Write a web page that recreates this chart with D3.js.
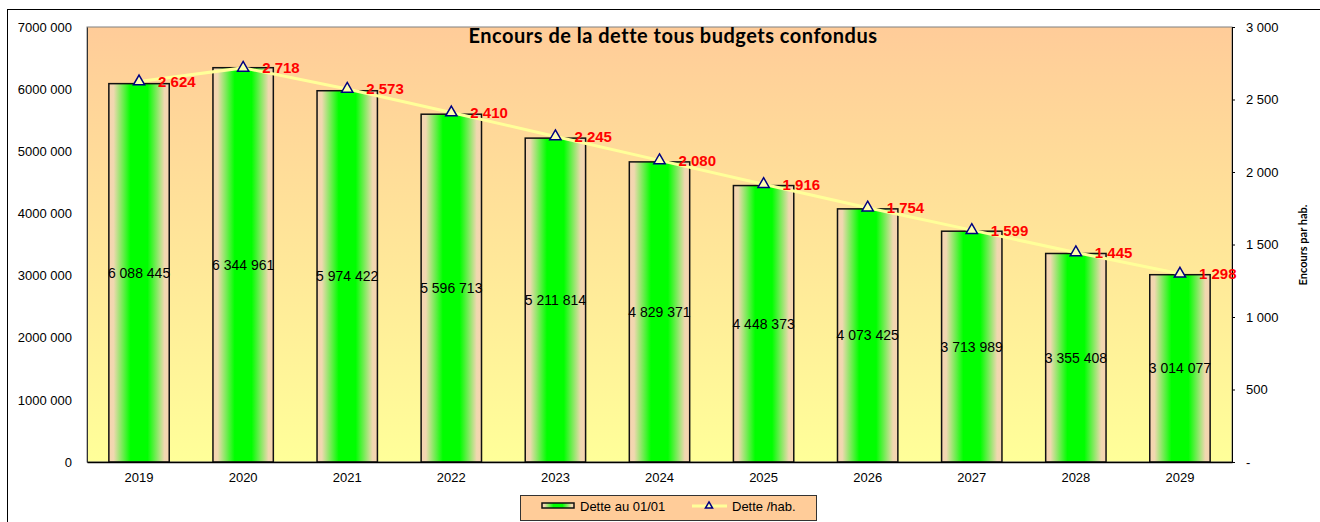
<!DOCTYPE html>
<html><head><meta charset="utf-8">
<script src="https://cdn.jsdelivr.net/npm/d3@7"></script>
<style>body{margin:0;background:#fff}svg{display:block}</style>
</head><body>
<svg id="c" width="1320" height="522"></svg>
<script>
const years = ["2019","2020","2021","2022","2023","2024","2025","2026","2027","2028","2029"];
const detteValues = [6088445, 6344961, 5974422, 5596713, 5211814, 4829371, 4448373, 4073425, 3713989, 3355408, 3014077];
const parHabValues = [2624, 2718, 2573, 2410, 2245, 2080, 1916, 1754, 1599, 1445, 1298];
const leftTickValues = [0, 1000000, 2000000, 3000000, 4000000, 5000000, 6000000, 7000000];
const leftTickLabels = ["0","1000 000","2000 000","3000 000","4000 000","5000 000","6000 000","7000 000"];
const rightTickValues = [0, 500, 1000, 1500, 2000, 2500, 3000];
const rightTickLabels = ["-","500","1 000","1 500","2 000","2 500","3 000"];
const title = "Encours de la dette tous budgets confondus";
const rightTitle = "Encours par hab.";
const legendLabels = ["Dette au 01/01", "Dette /hab."];

const svg = d3.select("#c");
const L = 87, R = 1232, T = 27, B = 462;
const sans = "'Liberation Sans', Arial, sans-serif";
const spaceFmt = v => d3.format(",")(v).replace(/,/g, " ");

const defs = svg.append("defs");
const bg = defs.append("linearGradient").attr("id","bg").attr("x1",0).attr("y1",0).attr("x2",0).attr("y2",1);
bg.append("stop").attr("offset","0%").attr("stop-color","#FFCC99");
bg.append("stop").attr("offset","100%").attr("stop-color","#FFFF99");
const bar = defs.append("linearGradient").attr("id","bar").attr("x1",0).attr("y1",0).attr("x2",1).attr("y2",0);
[[0,"#F8D4B0"],[0.08,"#F0D8B0"],[0.36,"#00FF00"],[0.64,"#00FF00"],[0.92,"#F0D8B0"],[1,"#F8D4B0"]].forEach(([o,c]) =>
  bar.append("stop").attr("offset", o*100+"%").attr("stop-color", c));

// outer frame
svg.append("rect").attr("x",7.5).attr("y",9.5).attr("width",1330).attr("height",530)
  .attr("fill","#fff").attr("stroke","#000").attr("stroke-width",1);

const x = d3.scaleBand().domain(years).range([L, R]).paddingInner(0.42).paddingOuter(0.21);
const yL = d3.scaleLinear().domain([0, 7000000]).range([B, T]);
const yR = d3.scaleLinear().domain([0, 3000]).range([B, T]);

// plot background
svg.append("rect").attr("x",L).attr("y",T).attr("width",R-L).attr("height",B-T)
  .attr("fill","url(#bg)").attr("stroke","#808080").attr("stroke-width",1);

// title
svg.append("text").attr("x",673).attr("y",43).attr("text-anchor","middle")
  .attr("font-family","Lato, 'Open Sans', sans-serif").attr("font-weight","bold").attr("font-size",20)
  .attr("letter-spacing",0.5).attr("fill","#000").text(title);

// bars
svg.append("g").selectAll("rect").data(detteValues).join("rect")
  .attr("x",(d,i)=>x(years[i])).attr("width",x.bandwidth())
  .attr("y",d=>yL(d)).attr("height",d=>B-yL(d))
  .attr("fill","url(#bar)").attr("stroke","#111").attr("stroke-width",1.5);

// bar labels
svg.append("g").selectAll("text").data(detteValues).join("text")
  .attr("x",(d,i)=>x(years[i])+x.bandwidth()/2).attr("y",d=>(yL(d)+B)/2)
  .attr("dy","0.35em").attr("text-anchor","middle")
  .attr("font-family",sans).attr("font-size",14).attr("fill","#000")
  .text(d=>spaceFmt(d));

// axes
const axL = d3.axisLeft(yL).tickValues(leftTickValues).tickSize(0).tickPadding(15)
  .tickFormat((d,i)=>leftTickLabels[i]);
const gL = svg.append("g").attr("transform",`translate(${L},0)`).call(axL);
gL.select(".domain").attr("stroke","#333");
gL.selectAll("text").attr("font-family",sans).attr("font-size",13).attr("fill","#000");

const axR = d3.axisRight(yR).tickValues(rightTickValues).tickSize(3).tickPadding(11)
  .tickFormat((d,i)=>rightTickLabels[i]);
const gR = svg.append("g").attr("transform",`translate(${R},0)`).call(axR);
gR.select(".domain").attr("stroke","#000");
gR.selectAll("line").attr("stroke","#000");
gR.selectAll("text").attr("font-family",sans).attr("font-size",13).attr("fill","#000");

const axB = d3.axisBottom(x).tickSize(0).tickPadding(11);
const gB = svg.append("g").attr("transform",`translate(0,${B})`).call(axB);
gB.select(".domain").attr("stroke","#000").attr("stroke-width",1.5);
gB.selectAll("text").attr("font-family",sans).attr("font-size",13).attr("fill","#000");

svg.append("text").attr("transform","translate(1307,245) rotate(-90)").attr("text-anchor","middle")
  .attr("font-family","Lato, 'Open Sans', sans-serif").attr("font-weight","bold").attr("font-size",11)
  .attr("fill","#000").text(rightTitle);

// line
const cx = i => x(years[i]) + x.bandwidth()/2;
svg.append("path").datum(parHabValues)
  .attr("d", d3.line().x((d,i)=>cx(i)).y(d=>yR(d)))
  .attr("fill","none").attr("stroke","#FFFF99").attr("stroke-width",3);

const tri = d3.symbol().type(d3.symbolTriangle).size(55);
svg.append("g").selectAll("path").data(parHabValues).join("path")
  .attr("d", tri).attr("transform",(d,i)=>`translate(${cx(i)},${yR(d)})`)
  .attr("fill","#FFFFB0").attr("stroke","#000080").attr("stroke-width",1.5);

svg.append("g").selectAll("text").data(parHabValues).join("text")
  .attr("x",(d,i)=>cx(i)+19).attr("y",d=>yR(d)).attr("dy","0.36em")
  .attr("font-family",sans).attr("font-weight","bold").attr("font-size",15).attr("fill","#FF0000")
  .text(d=>spaceFmt(d));

// legend
const lg = svg.append("g");
lg.append("rect").attr("x",520.5).attr("y",495.5).attr("width",296).attr("height",25)
  .attr("fill","#FFCC99").attr("stroke","#333").attr("stroke-width",1);
lg.append("rect").attr("x",542).attr("y",503).attr("width",32).attr("height",5)
  .attr("fill","url(#bar)").attr("stroke","#111").attr("stroke-width",1.5);
lg.append("text").attr("x",580).attr("y",506).attr("dy","0.35em")
  .attr("font-family",sans).attr("font-size",13).attr("fill","#000").text(legendLabels[0]);
lg.append("line").attr("x1",692).attr("x2",727).attr("y1",506).attr("y2",506)
  .attr("stroke","#FFFF99").attr("stroke-width",3);
lg.append("path").attr("d", d3.symbol().type(d3.symbolTriangle).size(22)())
  .attr("transform","translate(709,506)").attr("fill","#FFFFB0").attr("stroke","#000080").attr("stroke-width",1.5);
lg.append("text").attr("x",732).attr("y",506).attr("dy","0.35em")
  .attr("font-family",sans).attr("font-size",13).attr("fill","#000").text(legendLabels[1]);
</script>
</body></html>
